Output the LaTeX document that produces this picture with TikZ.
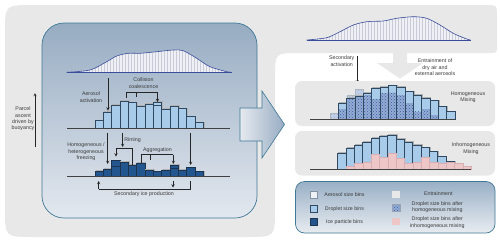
\documentclass[tikz,border=0pt]{standalone}
\usepackage{fontspec}
\setmainfont{Liberation Sans}
\usetikzlibrary{patterns}

\definecolor{panelgrey}{HTML}{E8E8E8}
\definecolor{boxtop}{HTML}{97ACC2}
\definecolor{boxbot}{HTML}{E3E8EF}
\definecolor{boxedge}{HTML}{3F7896}
\definecolor{arrowlight}{HTML}{E6EAF0}
\definecolor{legtop}{HTML}{9AB0C6}
\definecolor{legbot}{HTML}{E8ECF1}
\definecolor{dropfill}{HTML}{A8CBEA}
\definecolor{dropedge}{HTML}{2F4963}
\definecolor{icefill}{HTML}{23568F}
\definecolor{iceedge}{HTML}{1B3550}
\definecolor{aerofill}{HTML}{EEF2F7}
\definecolor{homfill}{HTML}{93ACD6}
\definecolor{homdots}{HTML}{3C5C9C}
\definecolor{pinkfill}{HTML}{EDC7C8}
\definecolor{pinkedge}{HTML}{D9AEB0}
\definecolor{curveline}{HTML}{3A4C9C}
\definecolor{curvefill}{HTML}{EEF0F5}
\definecolor{hatchgrey}{HTML}{C9CCD6}
\definecolor{labeltext}{HTML}{3A3A3A}

\tikzset{
  lbl/.style={text=labeltext, font=\fontsize{5.3}{6.4}\selectfont, align=center, inner sep=0pt},
  binshadow/.style={draw=black!30, line width=0.6pt},
  dropbin/.style={fill=dropfill, draw=dropedge, line width=0.5pt},
  icebin/.style={fill=icefill, draw=iceedge, line width=0.5pt},
  aerobin/.style={fill=aerofill, draw=dropedge!60, line width=0.5pt},
  hombin/.style={fill=homfill, postaction={pattern=crosshatch dots, pattern color=homdots}},
  lighthom/.style={fill=homfill!55, postaction={pattern=crosshatch dots, pattern color=homdots!50}},
  inhombin/.style={fill=pinkfill, draw=pinkedge, line width=0.3pt},
  axisline/.style={draw=black!75, line width=0.6pt},
  proc/.style={->, draw=black!85, line width=0.45pt},
  brack/.style={draw=black!85, line width=0.45pt},
  hatchline/.style={draw=hatchgrey, line width=0.2pt},
  sizecurve/.style={draw=curveline, line width=0.6pt}
}

% size distributions (pixel coordinates, y downwards)
\newcommand{\leftcurve}{plot[smooth] coordinates {(66.7,72.3) (90,70) (106.7,61.7) (116.7,56) (128.3,53.3) (140,53.3) (156.7,51.7) (173.3,50) (183.3,50.7) (196.7,58.3) (210,66.7) (226.7,71.7) (231.7,72.3)}}
\newcommand{\rightcurve}{plot[smooth] coordinates {(306.7,40) (326.7,37.7) (340,31.7) (353.3,25) (366.7,21.7) (383.3,21) (396.7,18.3) (413.3,16.7) (426.7,18.3) (440,25) (453.3,33.3) (466.7,39) (470.7,40)}}

\begin{document}
\begin{tikzpicture}[x=1pt,y=-1pt,>=stealth]
  \useasboundingbox (0,0) rectangle (500,242);
  \fill[white] (0,0) rectangle (500,242);

  % grey backdrop
  \fill[panelgrey] (5,120) -- (5,33) .. controls (5,5) .. (33,5) -- (485,5) .. controls (497,5) .. (497,17)
    -- (497,45) .. controls (497,53) .. (489,53) -- (299,53) .. controls (275,53) .. (275,77)
    -- (275,209) .. controls (275,237) .. (247,237) -- (33,237) .. controls (5,237) .. (5,209) -- cycle;
  \fill[panelgrey] (393,50) -- (407,50) -- (407,63) -- (423,63) -- (400,78.5) -- (377,63) -- (393,63) -- cycle;

  % parcel box
  \draw[draw=boxedge, line width=0.7pt, rounded corners=22pt, top color=boxtop, bottom color=boxbot]
    (42,23) rectangle (257,218);

  \node[lbl] (parcel) at (23,119) {Parcel\\ascent\\driven by\\buoyancy};
  \draw[proc] (35,147) -- (35,93);

  % aerosol distribution
  \fill[curvefill] \leftcurve -- cycle;
  \begin{scope}
    \clip \leftcurve -- cycle;
    \foreach \x in {68,71,...,231} \draw[hatchline] (\x,45) -- (\x,73);
  \end{scope}
  \draw[sizecurve] \leftcurve;
  \draw[sizecurve] (66.7,72.3) -- (231.7,72.3);

  % droplet bins
  \foreach \binh [count=\i from 0] in {120.7,112.3,105,101,102.7,106,104.3,102.3,109,106,108.7,116.7,122.7}
  {
    \draw[binshadow] ({95.8+\i*8.33},128.3) rectangle ({95.8+(\i+1)*8.33},{\binh-0.8});
    \draw[dropbin] ({95+\i*8.33},128.3) rectangle ({95+(\i+1)*8.33},\binh);
  }
  \draw[dropedge, line width=0.5pt] (153.3,105) -- (161.7,105);
  \draw[axisline] (67,128.3) -- (230,128.3);

  % ice bins
  \foreach \binh [count=\i from 0] in {171,169.3,160.7,162.3,165,163.3,170,171.7,170,165,170,167.7,171.7}
  {
    \draw[binshadow] ({95.8+\i*8.33},176.7) rectangle ({95.8+(\i+1)*8.33},{\binh-0.8});
    \draw[icebin] ({95+\i*8.33},176.7) rectangle ({95+(\i+1)*8.33},\binh);
  }
  \draw[iceedge, line width=0.5pt] (111.7,166.7) -- (120,166.7);
  \draw[iceedge, line width=0.5pt] (170,168.3) -- (178.3,168.3);
  \draw[axisline] (67,176.7) -- (230,176.7);

  % processes
  \node[lbl] (activation) at (91,97) {Aerosol\\activation};
  \draw[proc] (108,78) -- (108,110.5);

  \node[lbl] (coalescence) at (143.5,83) {Collision\\coalescence};
  \draw[brack] (126,98) -- (126,92) -- (157.5,92);
  \draw[brack] (136,92) -- (136,97);
  \draw[proc] (157.5,92) -- (157.5,102);

  \node[lbl] (freezing) at (86,152) {Homogeneous /\\heterogeneous\\freezing};
  \draw[proc] (107.7,132.7) -- (107.7,164);
  \draw[proc] (190.7,132.7) -- (190.7,165);

  \node[lbl] (riming) at (132.5,140) {Riming};
  \draw[proc] (122.7,133.3) -- (122.7,147);
  \draw[brack] (132.7,165) -- (132.7,148.5) -- (116,148.5);
  \draw[proc] (116,148.5) -- (116,156.5);

  \node[lbl] (aggregation) at (157.5,150.5) {Aggregation};
  \draw[brack] (141,162.5) -- (141,154.5) -- (173.3,154.5);
  \draw[brack] (150,154.5) -- (150,159.5);
  \draw[proc] (173.3,154.5) -- (173.3,164);

  \node[lbl] (secondary) at (144,194) {Secondary ice production};
  \draw[brack] (190.7,181) -- (190.7,189) -- (98.7,189);
  \draw[proc] (98.7,189) -- (98.7,181);
  \draw[proc] (173,181) -- (173,187.5);

  % transfer arrow
  \draw[draw=boxedge, line width=0.6pt, left color=arrowlight, right color=boxtop]
    (240,108) -- (262,108) -- (262,91) -- (284.5,124.5) -- (262,158) -- (262,141) -- (240,141) -- cycle;

  % entrained aerosol distribution
  \fill[curvefill] \rightcurve -- cycle;
  \begin{scope}
    \clip \rightcurve -- cycle;
    \foreach \x in {308,311,...,470} \draw[hatchline] (\x,12) -- (\x,41);
  \end{scope}
  \draw[sizecurve] \rightcurve;
  \draw[sizecurve] (306.7,40) -- (470.7,40);

  \node[lbl] (secact) at (341.7,61) {Secondary\\activation};
  \draw[proc] (357.3,56) -- (357.3,83.5);
  \node[lbl] (entrain) at (435,67.5) {Entrainment of\\dry air and\\external aerosols};

  % homogeneous mixing
  \fill[panelgrey, rounded corners=7pt] (295,81) rectangle (495,126);
  \fill[lighthom] (330,119) rectangle (338.3,113.3);
  \draw[dropedge!40, line width=0.3pt] (330,119) rectangle (338.3,113.3);
  \fill[lighthom] (346.7,98.3) rectangle (355,95);
  \fill[lighthom] (355,96) rectangle (363.3,89.3);
  \draw[dropedge!40, line width=0.3pt] (346.7,98.3) rectangle (355,95);
  \draw[dropedge!40, line width=0.3pt] (355,96) rectangle (363.3,89.3);
  \foreach \binh/\homh [count=\i from 1] in {103.3/109.3,98.3/98.3,96/96,93.3/95,88.3/99.3,87.3/93.3,85.7/92.7,87.3/95,91.7/103.3,95/111.7,98.3/109.3,100.7/115,106.7/119,111.7/119}
  {
    \draw[binshadow] ({330.8+\i*8.33},119) rectangle ({330.8+(\i+1)*8.33},{\binh-0.8});
    \fill[dropfill] ({330+\i*8.33},119) rectangle ({330+(\i+1)*8.33},\binh);
    \fill[hombin] ({330+\i*8.33},119) rectangle ({330+(\i+1)*8.33},\homh);
    \draw[dropedge, line width=0.5pt] ({330+\i*8.33},119) rectangle ({330+(\i+1)*8.33},\binh);
  }
  \draw[axisline] (310,119) -- (455,119);
  \node[lbl] (hommix) at (468,97.5) {Homogeneous\\Mixing};

  % inhomogeneous mixing
  \fill[panelgrey, rounded corners=7pt] (295,131) rectangle (495,175.5);
  \foreach \binh [count=\i from 0] in {153.3,148.3,145,142.3,138.3,136,135,139.3,142.3,145,147.7,151.7,156.7,161.7}
  {
    \draw[binshadow] ({338.5+\i*8.33},169.3) rectangle ({338.5+(\i+1)*8.33},{\binh-0.8});
    \draw[dropbin] ({337.7+\i*8.33},169.3) rectangle ({337.7+(\i+1)*8.33},\binh);
  }
  \foreach \binh [count=\i from 1] in {165.7,163.3,161.7,154,157.3,153.3,158.3,163.3,161.7,157.3,161.7,162.7,161.7,163.3,166}
    \draw[inhombin] ({337.7+\i*8.33},169.3) rectangle ({337.7+(\i+1)*8.33},\binh);
  \draw[axisline] (310,169.3) -- (471,169.3);
  \node[lbl] (inhommix) at (471,148.5) {Inhomogeneous\\Mixing};

  % legend
  \draw[draw=boxedge, line width=0.7pt, rounded corners=9pt, top color=legtop, bottom color=legbot]
    (295.5,181.5) rectangle (495,233);
  \draw[aerobin] (310,191.7) rectangle (317.7,198.3);
  \draw[dropbin] (310,205.7) rectangle (317.7,212.3);
  \draw[icebin] (310,218.3) rectangle (317.7,225);
  \node[lbl] (legaero) at (344.5,195) {Aerosol size bins};
  \node[lbl] (legdrop) at (344.5,209) {Droplet size bins};
  \node[lbl] (legice) at (344.5,222.3) {Ice particle bins};
  \fill[panelgrey] (392,190.5) rectangle (400,197.5);
  \fill[hombin] (392,204) rectangle (400,211);
  \draw[dropedge!50, line width=0.3pt] (392,204) rectangle (400,211);
  \fill[pinkfill] (392,218) rectangle (400,225);
  \node[lbl] (legentr) at (438.3,194) {Entrainment};
  \node[lbl] (leghom) at (437.3,207.2) {Droplet size bins after\\homogeneous mixing};
  \node[lbl] (leginhom) at (437.3,222.5) {Droplet size bins after\\inhomogeneous mixing};
\end{tikzpicture}
\end{document}
